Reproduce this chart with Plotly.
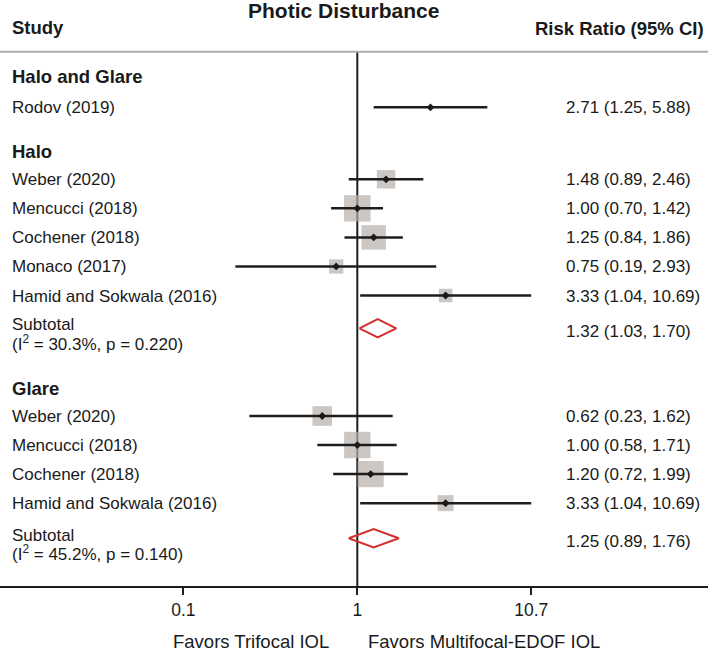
import math
import plotly.graph_objects as go

# ---------------- data ----------------
group_names = ["Halo and Glare", "Halo", "Glare"]

hg_studies = ["Rodov (2019)"]
hg_rr = [2.71]
hg_lo = [1.25]
hg_hi = [5.88]
hg_weight = [None]

halo_studies = ["Weber (2020)", "Mencucci (2018)", "Cochener (2018)",
                "Monaco (2017)", "Hamid and Sokwala (2016)"]
halo_rr = [1.48, 1.00, 1.25, 0.75, 3.33]
halo_lo = [0.89, 0.70, 0.84, 0.19, 1.04]
halo_hi = [2.46, 1.42, 1.86, 2.93, 10.69]
halo_weight = [16.8, 34.6, 29.6, 10.1, 9.0]

glare_studies = ["Weber (2020)", "Mencucci (2018)", "Cochener (2018)",
                 "Hamid and Sokwala (2016)"]
glare_rr = [0.62, 1.00, 1.20, 3.33]
glare_lo = [0.23, 0.58, 0.72, 1.04]
glare_hi = [1.62, 1.71, 1.99, 10.69]
glare_weight = [19.0, 34.6, 33.8, 12.6]

subtotal_rr = [None, 1.32, 1.25]
subtotal_lo = [None, 1.03, 0.89]
subtotal_hi = [None, 1.70, 1.76]
subtotal_i2 = [None, 30.3, 45.2]
subtotal_p = [None, 0.220, 0.140]

tick_vals = [1 / 10.7, 1, 10.7]
tick_text = ["0.1", "1", "10.7"]

title_text = "Photic Disturbance"
col_left_header = "Study"
col_right_header = "Risk Ratio (95% CI)"
favors_left = "Favors Trifocal IOL"
favors_right = "Favors Multifocal-EDOF IOL"

groups = [
    (hg_studies, hg_rr, hg_lo, hg_hi, hg_weight),
    (halo_studies, halo_rr, halo_lo, halo_hi, halo_weight),
    (glare_studies, glare_rr, glare_lo, glare_hi, glare_weight),
]

# ---------------- layout constants ----------------
W, H = 708, 652
AXIS_Y = 586
FONT = "Liberation Sans, Arial, sans-serif"
TXT = "#1a1a1a"
header_y = [76.7, 151.5, 388.3]
first_row_y = [107.3, 179.3, 416.0]
ROW = 29.05
sub_y = [None, 328.3, 538.3]
HALF_DIAMOND = 9.2
LEFT_X = 10.5
RIGHT_X = 565
BOX_SCALE = 4.5

fig = go.Figure()

ann = []


def label(text, xpx, ypx, size=17, bold=False, anchor="left"):
    if bold:
        text = "<b>" + text + "</b>"
    ann.append(dict(text=text, x=xpx / W, xref="paper",
                    y=(AXIS_Y - ypx) / AXIS_Y, yref="paper",
                    xanchor=anchor, yanchor="middle", showarrow=False,
                    borderpad=0,
                    font=dict(family=FONT, size=size, color=TXT)))


box_x, box_y, box_s = [], [], []
ci_x, ci_y = [], []
pt_x, pt_y = [], []
dia_x, dia_y = [], []

for gi, (names, rr, lo, hi, wt) in enumerate(groups):
    label(group_names[gi], LEFT_X, header_y[gi], size=18.5, bold=True)
    for i, name in enumerate(names):
        y = first_row_y[gi] + i * ROW
        label(name, LEFT_X, y + 0.5)
        label(f"{rr[i]:.2f} ({lo[i]:.2f}, {hi[i]:.2f})", RIGHT_X, y + 0.5)
        if wt[i] is not None:
            box_x.append(rr[i]); box_y.append(y)
            box_s.append(math.sqrt(wt[i]) * BOX_SCALE)
        ci_x += [lo[i], hi[i], None]; ci_y += [y, y, None]
        pt_x.append(rr[i]); pt_y.append(y)
    if subtotal_rr[gi] is not None:
        yd = sub_y[gi]
        e, l, h = subtotal_rr[gi], subtotal_lo[gi], subtotal_hi[gi]
        dia_x += [l, e, h, e, l, None]
        dia_y += [yd, yd - HALF_DIAMOND, yd, yd + HALF_DIAMOND, yd, None]
        label("Subtotal", LEFT_X, yd - 3.3)
        label(f"(I<sup>2</sup> = {subtotal_i2[gi]:.1f}%, p = {subtotal_p[gi]:.3f})",
              LEFT_X, yd + 14.7)
        label(f"{e:.2f} ({l:.2f}, {h:.2f})", RIGHT_X, yd + 3.4)

# reference line at 1
fig.add_trace(go.Scatter(x=[1, 1], y=[51.7, AXIS_Y], mode="lines",
                         line=dict(color="#1e1e1e", width=2),
                         hoverinfo="skip", cliponaxis=False))
fig.add_trace(go.Scatter(x=box_x, y=box_y, mode="markers",
                         marker=dict(symbol="square", size=box_s,
                                     color="#b7afaa", line=dict(width=0)),
                         hoverinfo="skip"))
fig.add_trace(go.Scatter(x=ci_x, y=ci_y, mode="lines",
                         line=dict(color="#1e1e1e", width=2.5),
                         hoverinfo="skip", connectgaps=False))
fig.add_trace(go.Scatter(x=pt_x, y=pt_y, mode="markers",
                         marker=dict(symbol="diamond", size=6, color="#1a1a1a"),
                         hoverinfo="skip"))
fig.add_trace(go.Scatter(x=dia_x, y=dia_y, mode="lines",
                         line=dict(color="#d42f2f", width=2),
                         hoverinfo="skip", connectgaps=False))

# headers
label(title_text, 343, 10.5, size=21, bold=True, anchor="center")
label(col_left_header, LEFT_X, 27, size=18.5, bold=True)
label(col_right_header, 705, 28, size=18.5, bold=True, anchor="right")
label(favors_left, 329.5, 641, size=18.5, anchor="right")
label(favors_right, 367, 641, size=18.5, anchor="left")

fig.update_layout(
    width=W, height=H, autosize=False,
    margin=dict(l=0, r=0, t=0, b=H - AXIS_Y, pad=0),
    paper_bgcolor="white", plot_bgcolor="white",
    showlegend=False,
    annotations=ann,
    shapes=[dict(type="line", xref="paper", yref="y", x0=0, x1=1,
                 y0=51.7, y1=51.7, line=dict(color="#b1aba5", width=2))],
    xaxis=dict(type="log", range=[-2.114, 2.075], tickvals=tick_vals,
               ticktext=tick_text, ticks="outside", ticklen=7, tickwidth=2,
               tickcolor="#1e1e1e", showline=True, linewidth=2,
               linecolor="#1e1e1e", showgrid=False, zeroline=False,
               tickfont=dict(family=FONT, size=17.5, color=TXT),
               fixedrange=True),
    yaxis=dict(range=[AXIS_Y, 0], visible=False, showgrid=False,
               zeroline=False, fixedrange=True),
)

fig.write_html(
    "out.html",
    config={"displayModeBar": False},
    post_script="document.body.style.margin='0';document.body.style.padding='0';"
                "document.documentElement.style.overflow='hidden';",
)
